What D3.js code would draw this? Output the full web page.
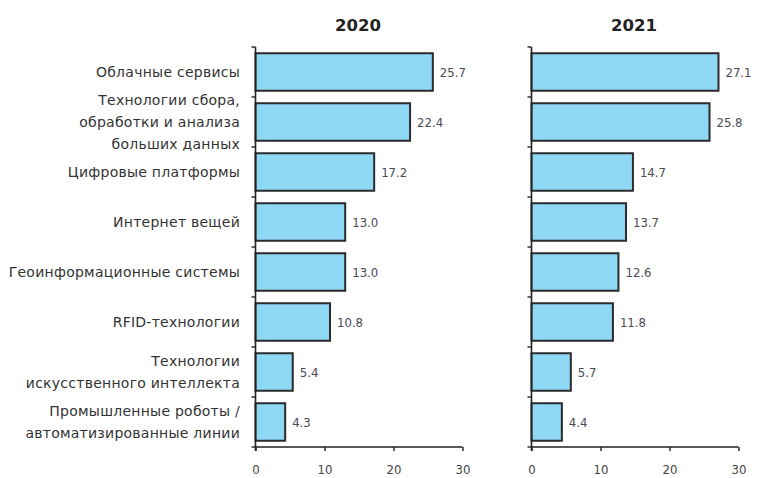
<!DOCTYPE html>
<html><head><meta charset="utf-8">
<script src="https://cdn.jsdelivr.net/npm/d3@7"></script>
<style>body{margin:0;background:#fff}svg{display:block}</style>
</head><body>
<svg id="c" width="765" height="478"></svg>
<script>
const categories = [
  ["Облачные сервисы"],
  ["Технологии сбора,", "обработки и анализа", "больших данных"],
  ["Цифровые платформы"],
  ["Интернет вещей"],
  ["Геоинформационные системы"],
  ["RFID-технологии"],
  ["Технологии", "искусственного интеллекта"],
  ["Промышленные роботы /", "автоматизированные линии"]
];
const years = ["2020", "2021"];
const values2020 = [25.7, 22.4, 17.2, 13.0, 13.0, 10.8, 5.4, 4.3];
const values2021 = [27.1, 25.8, 14.7, 13.7, 12.6, 11.8, 5.7, 4.4];
const xTicks = [0, 10, 20, 30];

(function () {
const svg = d3.select("#c");
const plotTop = 47, plotBottom = 447;
const panels = [
  {year: years[0], vals: values2020, x0: 255.5, x1: 462.5},
  {year: years[1], vals: values2021, x0: 531.5, x1: 738.5}
];
const idx = d3.range(categories.length);
const y = d3.scaleBand().domain(idx).range([plotTop, plotBottom]).paddingInner(0.25).paddingOuter(0.125);
const condFont = "'DejaVu Sans Condensed','DejaVu Sans',sans-serif";
const catFont = "'DejaVu Sans',sans-serif";

panels.forEach((p, pi) => {
  const x = d3.scaleLinear().domain([0, 30]).range([p.x0, p.x1]);
  const g = svg.append("g");
  g.append("text").attr("x", (p.x0 + p.x1) / 2 - 1).attr("y", 31)
    .attr("text-anchor", "middle").attr("font-family", "'DejaVu Sans',sans-serif")
    .attr("font-weight", "bold").attr("font-size", 16.5).attr("fill", "#222").text(p.year);
  g.selectAll("rect").data(p.vals).join("rect")
    .attr("x", x(0)).attr("y", (d, i) => y(i))
    .attr("width", d => x(d) - x(0)).attr("height", y.bandwidth())
    .attr("fill", "#8fd8f5").attr("stroke", "#2b2b2b").attr("stroke-width", 2);
  g.selectAll("text.v").data(p.vals).join("text").attr("class", "v")
    .attr("x", d => x(d) + 7).attr("y", (d, i) => y(i) + y.bandwidth() / 2)
    .attr("dy", "0.35em").attr("font-family", condFont).attr("font-size", 13)
    .attr("fill", "#4a4a55").text(d => d.toFixed(1));
  g.append("line").attr("x1", x(0)).attr("x2", x(0)).attr("y1", plotTop).attr("y2", plotBottom + 4)
    .attr("stroke", "#222").attr("stroke-width", 1.6);
  const bounds = d3.range(categories.length + 1).map(i => plotTop + i * y.step());
  g.selectAll("line.yt").data(bounds).join("line").attr("class", "yt")
    .attr("x1", x(0) - 4).attr("x2", x(0)).attr("y1", d => d).attr("y2", d => d)
    .attr("stroke", "#222").attr("stroke-width", 1.4);
  const ax = g.append("g").attr("transform", `translate(0,${plotBottom})`)
    .call(d3.axisBottom(x).tickValues(xTicks).tickSize(4).tickPadding(14).tickFormat(d3.format("d")));
  ax.select(".domain").attr("stroke", "#222").attr("stroke-width", 1.4).attr("d", `M${x(0)},0H${x(30)}`);
  ax.selectAll(".tick line").attr("stroke", "#222").attr("stroke-width", 1.4);
  ax.selectAll(".tick text").attr("font-family", condFont).attr("font-size", 13).attr("fill", "#444");
  if (pi === 0) {
    const lh = 22;
    categories.forEach((lines, i) => {
      const cy = y(i) + y.bandwidth() / 2;
      const t = svg.append("text").attr("text-anchor", "end").attr("font-family", catFont)
        .attr("font-size", 14).attr("letter-spacing", 0.25).attr("fill", "#333");
      lines.forEach((ln, j) => {
        t.append("tspan").attr("x", 240).attr("y", cy + (j - (lines.length - 1) / 2) * lh)
          .attr("dy", "0.35em").text(ln);
      });
    });
  }
});
})();
</script>
</body></html>
